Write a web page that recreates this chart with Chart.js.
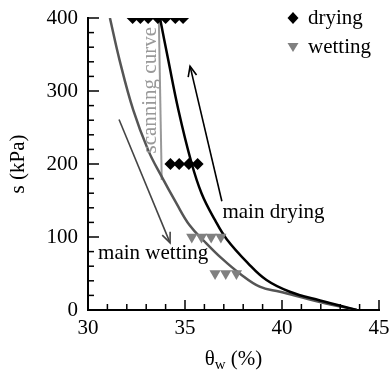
<!DOCTYPE html>
<html>
<head>
<meta charset="utf-8">
<script src="https://cdn.jsdelivr.net/npm/chart.js@4.4.1/dist/chart.umd.min.js"></script>
<style>
  html, body { margin: 0; padding: 0; background: #fff; }
  #wrap { width: 391px; height: 370px; }
</style>
</head>
<body>
<div id="wrap"><canvas id="chart" width="391" height="370"></canvas></div>
<script>
// Puntos medidos (secado / humedecimiento)
const dryingTheta = [32.3, 32.7, 33.1, 33.6, 34.0, 34.5, 34.9, 34.25, 34.7, 35.2, 35.65];
const dryingS     = [400, 400, 400, 400, 400, 400, 400, 200, 200, 200, 200];
const wettingTheta = [35.35, 35.85, 36.35, 36.85, 36.55, 37.1, 37.65];
const wettingS     = [100, 100, 100, 100, 50, 50, 50];

// Curvas principales y de escaneo
const mainDryTheta = [33.71, 34.14, 34.66, 35.3, 35.85, 36.55, 37.15, 38.25, 39.2, 40.4, 41.96, 43.85];
const mainDryS     = [400, 342, 274, 205, 160, 123, 97, 64, 41, 25, 13, 0];
const mainWetTheta = [31.13, 31.63, 32.33, 33.1, 33.75, 34.56, 35.24, 36.02, 36.88, 37.82, 38.85, 39.9, 41.96, 43.85];
const mainWetS     = [400, 342, 274, 219, 185, 146, 116, 93.5, 71, 50, 32, 25, 11, 0];
const scanTheta = [33.65, 33.8];
const scanS     = [400, 178];

// Flechas: [theta inicio, s inicio, theta fin, s fin]
const dryArrow = [36.9, 149, 35.26, 334];
const wetArrow = [31.6, 261, 34.23, 92];

// Ejes
const xTicks = [30, 35, 40, 45];
const yTicks = [0, 100, 200, 300, 400];

const FONT = "Liberation Serif";
const pts = (xs, ys) => xs.map((x, i) => ({ x, y: ys[i] }));

// Marcas menores/mayores hacia adentro, flechas, textos y leyenda
const decor = {
  id: "decor",
  afterDatasetsDraw(chart) {
    const { ctx, scales: { x, y }, chartArea: a } = chart;
    ctx.save();
    ctx.strokeStyle = "#000";
    ctx.lineWidth = 1.5;
    for (let v = 30; v <= 45; v++) {
      const px = x.getPixelForValue(v);
      const len = v % 5 === 0 ? 10 : 6;
      ctx.beginPath(); ctx.moveTo(px, a.bottom); ctx.lineTo(px, a.bottom - len); ctx.stroke();
    }
    for (let v = 0; v <= 400; v += 20) {
      const py = y.getPixelForValue(v);
      const len = v % 100 === 0 ? 11 : 6;
      ctx.beginPath(); ctx.moveTo(a.left, py); ctx.lineTo(a.left + len, py); ctx.stroke();
    }

    function arrow(arr, color) {
      const x0 = x.getPixelForValue(arr[0]), y0 = y.getPixelForValue(arr[1]);
      const x1 = x.getPixelForValue(arr[2]), y1 = y.getPixelForValue(arr[3]);
      const ang = Math.atan2(y1 - y0, x1 - x0);
      ctx.strokeStyle = color;
      ctx.lineWidth = 1.6;
      ctx.beginPath(); ctx.moveTo(x0, y0); ctx.lineTo(x1, y1); ctx.stroke();
      ctx.beginPath();
      ctx.moveTo(x1 - 11 * Math.cos(ang - 0.4), y1 - 11 * Math.sin(ang - 0.4));
      ctx.lineTo(x1, y1);
      ctx.lineTo(x1 - 11 * Math.cos(ang + 0.4), y1 - 11 * Math.sin(ang + 0.4));
      ctx.stroke();
    }
    arrow(dryArrow, "#000");
    arrow(wetArrow, "#444");

    ctx.font = `21px "${FONT}"`;
    ctx.fillStyle = "#000";
    ctx.textBaseline = "middle";
    ctx.textAlign = "left";
    ctx.fillText("main drying", x.getPixelForValue(36.93), y.getPixelForValue(133));
    ctx.fillText("main wetting", x.getPixelForValue(30.52), y.getPixelForValue(78));

    ctx.save();
    ctx.translate(x.getPixelForValue(33.2), y.getPixelForValue(301));
    ctx.rotate(-Math.PI / 2);
    ctx.textAlign = "center";
    ctx.fillStyle = "#999";
    ctx.fillText("scanning curve", 0, 0);
    ctx.restore();

    // leyenda
    const lx = 293, ly1 = 18, ly2 = 47;
    ctx.fillStyle = "#000";
    ctx.beginPath();
    ctx.moveTo(lx, ly1 - 6); ctx.lineTo(lx + 5.5, ly1); ctx.lineTo(lx, ly1 + 6); ctx.lineTo(lx - 5.5, ly1);
    ctx.closePath(); ctx.fill();
    ctx.fillStyle = "#808080";
    ctx.beginPath();
    ctx.moveTo(lx - 5.5, ly2 - 4); ctx.lineTo(lx + 5.5, ly2 - 4); ctx.lineTo(lx, ly2 + 5);
    ctx.closePath(); ctx.fill();
    ctx.fillStyle = "#000";
    ctx.fillText("drying", 308, ly1);
    ctx.fillText("wetting", 308, ly2);

    // titulos de ejes
    ctx.save();
    ctx.translate(18, (a.top + a.bottom) / 2);
    ctx.rotate(-Math.PI / 2);
    ctx.textAlign = "center";
    ctx.fillText("s (kPa)", 0, 0);
    ctx.restore();

    const cx = (a.left + a.right) / 2;
    const ty = 359;
    const t1 = "\u03b8", t3 = " (%)";
    ctx.font = `21px "${FONT}"`;
    const w1 = ctx.measureText(t1).width;
    const w3 = ctx.measureText(t3).width;
    ctx.font = `15px "${FONT}"`;
    const w2 = ctx.measureText("w").width;
    let sx = cx - (w1 + w2 + w3) / 2;
    ctx.font = `21px "${FONT}"`;
    ctx.fillText(t1, sx, ty);
    ctx.font = `15px "${FONT}"`;
    ctx.fillText("w", sx + w1, ty + 6);
    ctx.font = `21px "${FONT}"`;
    ctx.fillText(t3, sx + w1 + w2, ty);
    ctx.restore();
  }
};

new Chart(document.getElementById("chart"), {
  type: "scatter",
  data: {
    datasets: [
      { label: "drying", data: pts(dryingTheta, dryingS), showLine: false,
        pointStyle: "rectRot", pointRadius: 6, backgroundColor: "#000", borderColor: "#000", borderWidth: 0 },
      { label: "wetting", data: pts(wettingTheta, wettingS), showLine: false,
        pointStyle: "triangle", rotation: 180, pointRadius: 6.5, backgroundColor: "#808080", borderColor: "#808080", borderWidth: 0 },
      { label: "main drying", data: pts(mainDryTheta, mainDryS), showLine: true, pointRadius: 0,
        borderColor: "#000", borderWidth: 2.5, tension: 0.4 },
      { label: "main wetting", data: pts(mainWetTheta, mainWetS), showLine: true, pointRadius: 0,
        borderColor: "#555", borderWidth: 2.5, tension: 0.4 },
      { label: "scanning", data: pts(scanTheta, scanS), showLine: true, pointRadius: 0,
        borderColor: "#999", borderWidth: 2 }
    ]
  },
  options: {
    responsive: false,
    animation: false,
    layout: { padding: { left: 0, right: 12, top: 18, bottom: 0 } },
    plugins: { legend: { display: false }, tooltip: { enabled: false } },
    scales: {
      x: {
        type: "linear", min: 30, max: 45,
        afterBuildTicks: s => { s.ticks = xTicks.map(v => ({ value: v })); },
        afterFit: s => { s.height = 60; s.paddingLeft = 0; s.paddingRight = 0; },
        ticks: { color: "#000", font: { family: FONT, size: 21 }, padding: 6, maxRotation: 0 },
        grid: { drawOnChartArea: false, drawTicks: false },
        border: { color: "#000", width: 2 }
      },
      y: {
        type: "linear", min: 0, max: 400,
        afterBuildTicks: s => { s.ticks = yTicks.map(v => ({ value: v })); },
        afterFit: s => { s.width = 88; s.paddingTop = 0; s.paddingBottom = 0; },
        ticks: { color: "#000", font: { family: FONT, size: 21 }, padding: 10 },
        grid: { drawOnChartArea: false, drawTicks: false },
        border: { color: "#000", width: 2 }
      }
    }
  },
  plugins: [decor]
});
</script>
</body>
</html>
